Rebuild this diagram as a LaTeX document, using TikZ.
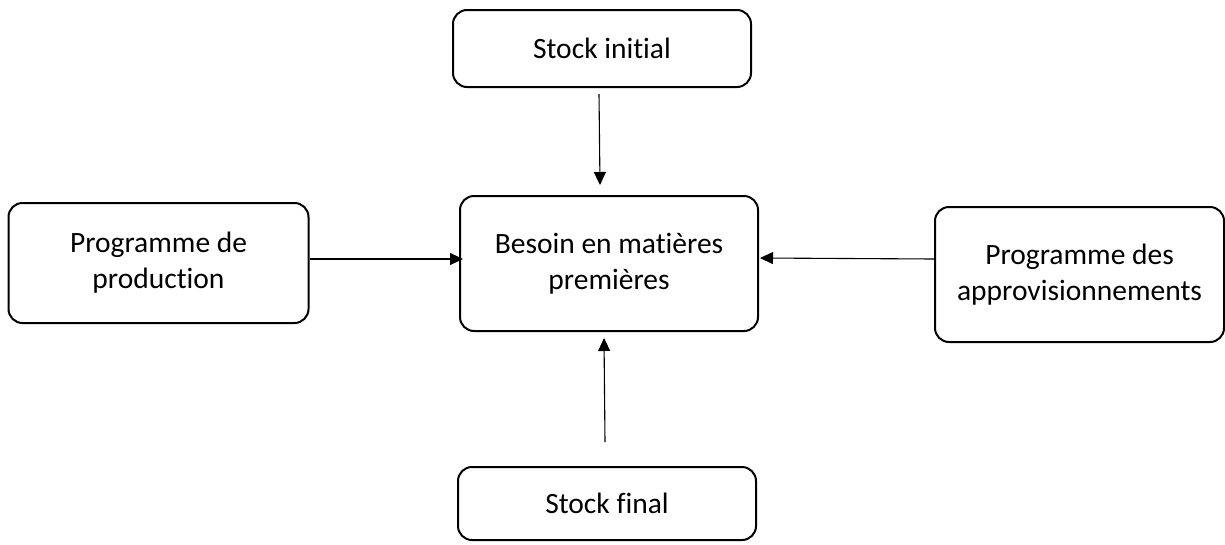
\documentclass[tikz,border=0pt]{standalone}
\usepackage{fontspec}
\setmainfont{Carlito}[Ligatures=NoCommon]
\usetikzlibrary{arrows.meta,calc}
\begin{document}
\begin{tikzpicture}[x=1pt,y=-1pt,
  box/.style={draw=black,line width=2pt,rounded corners=14pt,fill=white,
    align=center,inner sep=0pt,font=\fontsize{29.5}{36}\selectfont},
  arr/.style={line width=1.1pt,-{Triangle[length=13pt,width=12pt]}}]
\useasboundingbox (0,0) rectangle (1225,544);
% boxes
\node[box,minimum width=298pt,minimum height=77pt] (si) at (602,48.5) {Stock initial};
\node[box,minimum width=300pt,minimum height=120pt] (pp) at (158.5,263) {Programme de\\production};
\node[box,minimum width=298pt,minimum height=135pt] (bm) at (609,263.5) {Besoin en matières\\premières};
\node[box,minimum width=289pt,minimum height=135pt] (pa) at (1079.5,274.5) {Programme des\\approvisionnements};
\node[box,minimum width=298pt,minimum height=73pt] (sf) at (607,503.5) {Stock final};
% free ends of the vertical arrows
\coordinate (t0) at ($(si.south)+(-3pt,-6pt)$);
\coordinate (t1) at ($(bm.north)+(-9pt,10pt)$);
\coordinate (b0) at ($(sf.north)+(-2pt,24pt)$);
\coordinate (b1) at ($(bm.south)+(-5pt,-6pt)$);
% connectors
\draw[arr] (t0) -- (t1);
\draw[arr] ([yshift=4pt]pp.east) -- ([yshift=4.5pt,xshift=4pt]bm.west);
\draw[arr] ([yshift=15.5pt]pa.west) -- ([yshift=5.5pt,xshift=1pt]bm.east);
\draw[arr] (b0) -- (b1);
\end{tikzpicture}
\end{document}
